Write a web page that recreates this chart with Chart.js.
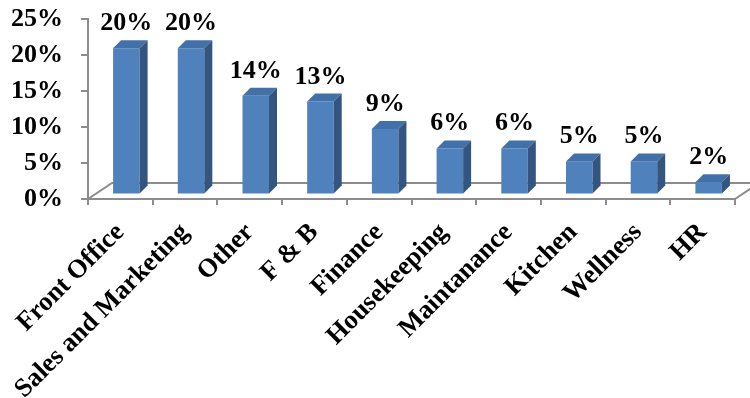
<!DOCTYPE html>
<html>
<head>
<meta charset="utf-8">
<script src="https://cdn.jsdelivr.net/npm/chart.js@4"></script>
<style>
  html, body { margin: 0; padding: 0; background: #fff; }
  #wrap { width: 750px; height: 398px; }
</style>
</head>
<body>
<div id="wrap"><canvas id="chart" width="750" height="398"></canvas></div>
<script>
const departments = ["Front Office", "Sales and Marketing", "Other", "F & B", "Finance",
  "Housekeeping", "Maintanance", "Kitchen", "Wellness", "HR"];
const shares = [20.3, 20.3, 13.7, 12.9, 9.1, 6.4, 6.4, 4.6, 4.6, 1.7];
const yTicks = [0, 5, 10, 15, 20, 25];

const FONT = "'Liberation Serif', 'Times New Roman', serif";
const FRONT = "#4f81bd", TOP = "#4270a8", SIDE = "#34557f";
const LINE = "#8c8c8c";
// bars stand a little behind the axis line, and have some depth
const shift = { x: 6, y: -4.5 };
const depth = { x: 8, y: -8 };
const floorDepth = { x: 24, y: -16 };

const box3d = {
  id: "box3d",
  beforeDatasetsDraw(chart) {
    const { ctx, chartArea: a } = chart;
    const y0 = chart.scales.y.getPixelForValue(0);
    // the floor of the 3d plot
    ctx.save();
    ctx.strokeStyle = LINE;
    ctx.lineWidth = 2;
    ctx.beginPath();
    ctx.moveTo(a.left, y0);
    ctx.lineTo(a.left + floorDepth.x, y0 + floorDepth.y);
    ctx.lineTo(chart.width + 20, y0 + floorDepth.y);
    ctx.moveTo(a.right, y0);
    ctx.lineTo(a.right + floorDepth.x, y0 + floorDepth.y);
    ctx.stroke();
    ctx.restore();

    ctx.save();
    ctx.translate(shift.x, shift.y);
  },
  afterDatasetsDraw(chart) {
    const { ctx } = chart;
    const meta = chart.getDatasetMeta(0);
    meta.data.forEach((bar, i) => {
      const { x, y, base, width } = bar.getProps(["x", "y", "base", "width"], true);
      const l = x - width / 2, r = x + width / 2;

      ctx.fillStyle = TOP;
      ctx.beginPath();
      ctx.moveTo(l, y);
      ctx.lineTo(l + depth.x, y + depth.y);
      ctx.lineTo(r + depth.x, y + depth.y);
      ctx.lineTo(r, y);
      ctx.closePath();
      ctx.fill();

      ctx.fillStyle = SIDE;
      ctx.beginPath();
      ctx.moveTo(r, y);
      ctx.lineTo(r + depth.x, y + depth.y);
      ctx.lineTo(r + depth.x, base + depth.y);
      ctx.lineTo(r, base);
      ctx.closePath();
      ctx.fill();

      ctx.fillStyle = "#000";
      ctx.font = "bold 26px " + FONT;
      ctx.textAlign = "center";
      ctx.textBaseline = "alphabetic";
      ctx.fillText(Math.round(shares[i]) + "%", x, y - 18);
    });
    ctx.restore();
  }
};

new Chart(document.getElementById("chart"), {
  type: "bar",
  data: {
    labels: departments,
    datasets: [{
      data: shares,
      backgroundColor: FRONT,
      borderWidth: 0,
      barPercentage: 0.41,
      categoryPercentage: 1,
      clip: false
    }]
  },
  options: {
    responsive: false,
    animation: false,
    layout: { padding: { top: 19, right: 15, left: 0, bottom: 0 } },
    plugins: { legend: { display: false }, tooltip: { enabled: false } },
    scales: {
      x: {
        afterFit(scale) { scale.height = 199; },
        grid: { drawOnChartArea: false, tickLength: 6, color: LINE, lineWidth: 2 },
        border: { color: LINE, width: 2 },
        ticks: {
          autoSkip: false,
          minRotation: 45,
          maxRotation: 45,
          padding: 12,
          color: "#000",
          font: { family: FONT, size: 26.5, weight: "bold" }
        }
      },
      y: {
        min: 0,
        max: 25,
        afterFit(scale) {
          scale.width = 88;
          scale.paddingTop = 0;
          scale.paddingBottom = 0;
        },
        afterBuildTicks(scale) { scale.ticks = yTicks.map(v => ({ value: v })); },
        grid: { drawOnChartArea: false, tickLength: 7, color: LINE, lineWidth: 2 },
        border: { color: LINE, width: 2 },
        ticks: {
          autoSkip: false,
          padding: 18,
          color: "#000",
          font: { family: FONT, size: 26, weight: "bold" },
          callback: v => v + "%"
        }
      }
    }
  },
  plugins: [box3d]
});
</script>
</body>
</html>
